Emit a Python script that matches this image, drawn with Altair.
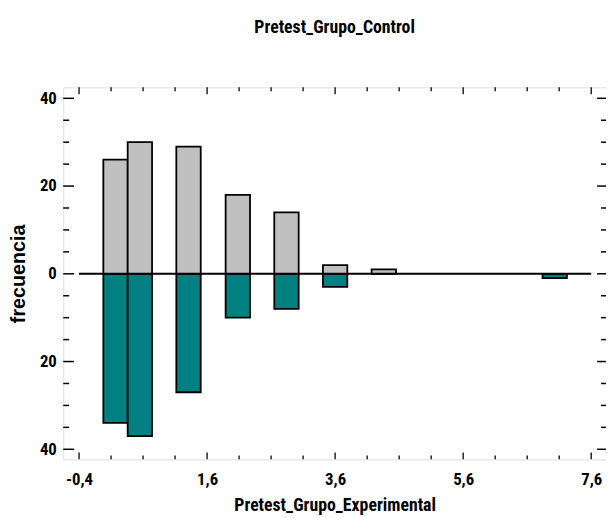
import altair as alt
import pandas as pd

# Histogram bins (centres) and counts
bin_centers = [0.17, 0.55, 1.31, 2.08, 2.84, 3.60, 4.36, 7.03]
bin_width = 0.381
control = [26, 30, 29, 18, 14, 2, 1, 0]          # upper (grey) bars
experimental = [34, 37, 27, 10, 8, 3, 0, 1]      # lower (teal) bars

x_major = [-0.4, 1.6, 3.6, 5.6, 7.6]
x_minor = [0.1, 0.6, 1.1, 2.1, 2.6, 3.1, 4.1, 4.6, 5.1, 6.1, 6.6, 7.1]
y_major = [-40, -20, 0, 20, 40]
y_minor = [-35, -30, -25, -15, -10, -5, 5, 10, 15, 25, 30, 35]

FONT = "Noto Sans Condensed, Roboto Condensed, Liberation Sans, Arial, sans-serif"
W, H = 550, 377
XDOM = [-0.6466, 7.831]
YDOM = [-42.3, 42.5]

rows = []
for c, a, b in zip(bin_centers, control, experimental):
    rows.append({"c": c, "v": a, "g": "Control"})
    rows.append({"c": c, "v": -b, "g": "Experimental"})
bars_df = pd.DataFrame(rows)

xs = alt.Scale(domain=XDOM, nice=False, zero=False)
ys = alt.Scale(domain=YDOM, nice=False, zero=False)

x_axis = alt.Axis(values=x_major, ticks=False, domain=False, grid=False,
                  labelExpr="(datum.value < 0 ? '-' : '') + replace(format(abs(datum.value), '.1f'), '.', ',')",
                  labelFont=FONT, labelFontSize=17, labelFontWeight="bold",
                  labelColor="#000", labelPadding=12,
                  title="Pretest_Grupo_Experimental", titleFont=FONT,
                  titleFontSize=18, titleFontWeight="bold", titleColor="#000",
                  titlePadding=10)
y_axis = alt.Axis(values=y_major, ticks=False, domain=False, grid=False,
                  labelExpr="abs(datum.value)",
                  labelFont=FONT, labelFontSize=17, labelFontWeight="bold",
                  labelColor="#000", labelPadding=7,
                  title="frecuencia", titleFont="Liberation Sans, Arial, sans-serif",
                  titleFontSize=20, titleFontWeight="bold", titleColor="#000",
                  titlePadding=11)

bars = alt.Chart(bars_df).transform_calculate(
    x0="datum.c - %f" % (bin_width / 2),
    x1="datum.c + %f" % (bin_width / 2),
).transform_filter("datum.v != 0").mark_bar(
    stroke="#000", strokeWidth=1.8
).encode(
    x=alt.X("x0:Q", scale=xs, axis=x_axis),
    x2="x1:Q",
    y=alt.Y("v:Q", scale=ys, axis=y_axis),
    y2=alt.datum(0),
    color=alt.Color("g:N", scale=alt.Scale(domain=["Control", "Experimental"],
                                           range=["#c0c0c0", "#008080"]),
                    legend=None),
)

zero_df = pd.DataFrame({"a": [x_major[0]], "b": [x_major[-1]], "y": [0]})
zero = alt.Chart(zero_df).mark_rule(color="#000", strokeWidth=2).encode(
    x=alt.X("a:Q", scale=xs), x2="b:Q", y=alt.Y("y:Q", scale=ys))

def xticks(vals, length):
    df = pd.DataFrame({"t": vals})
    bot = alt.Chart(df).mark_rule(color="#000", strokeWidth=1.3).encode(
        x=alt.X("t:Q", scale=xs), y=alt.value(H), y2=alt.value(H - length))
    top = alt.Chart(df).mark_rule(color="#000", strokeWidth=1.3).encode(
        x=alt.X("t:Q", scale=xs), y=alt.value(0), y2=alt.value(length))
    return bot + top

def yticks(vals, llen, rlen):
    df = pd.DataFrame({"t": vals})
    left = alt.Chart(df).mark_rule(color="#000", strokeWidth=1.5).encode(
        y=alt.Y("t:Q", scale=ys), x=alt.value(0), x2=alt.value(llen))
    right = alt.Chart(df).mark_rule(color="#000", strokeWidth=1.5).encode(
        y=alt.Y("t:Q", scale=ys), x=alt.value(W), x2=alt.value(W - rlen))
    return left + right

chart = alt.layer(
    bars, zero,
    xticks(x_major, 7), xticks(x_minor, 4),
    yticks(y_major, 11, 9), yticks(y_minor, 6, 5),
).properties(
    width=W, height=H,
    title=alt.Title("Pretest_Grupo_Control", font=FONT, fontSize=18,
                    fontWeight="bold", color="#000", anchor="middle", offset=50),
    autosize=alt.AutoSizeParams(type="none"),
    padding={"left": 56, "top": 77, "right": 0, "bottom": 56},
).configure_view(
    stroke="#000", strokeWidth=2
).configure(background="white")

chart.save("out.html", embed_options={"renderer": "svg", "actions": False})
